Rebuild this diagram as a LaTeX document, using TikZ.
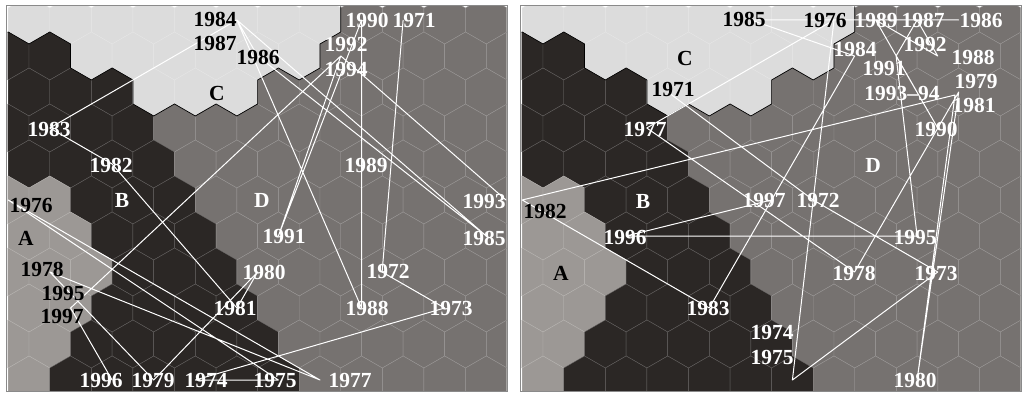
\documentclass[tikz,border=0pt]{standalone}
\usepackage{fontspec}
\setmainfont{Liberation Serif}
\definecolor{regC}{HTML}{DCDCDC}
\definecolor{regB}{HTML}{2B2725}
\definecolor{regA}{HTML}{9C9895}
\definecolor{regD}{HTML}{767270}
\definecolor{framegray}{HTML}{8A8A8A}
\tikzset{
  yr/.style={font=\fontsize{21.5}{24}\selectfont\bfseries, inner sep=0pt},
  wt/.style={yr, text=white},
  bk/.style={yr, text=black},
  traj/.style={draw=white, line width=1pt, line join=round},
  cbound/.style={draw=black, line width=0.7pt},
  panelframe/.style={draw=framegray, line width=1.3pt},
}
\newcommand{\hexrow}[2]{%
  \foreach \c [count=\i from 0] in {#2} {%
    \pgfmathsetmacro\cx{29-20.785*mod(#1,2)+41.569*\i}%
    \pgfmathsetmacro\cy{20+36*#1}%
    \filldraw[fill=reg\c, draw=reg\c!75!white, line width=0.4pt]
      (\cx,\cy) +(0,-24) -- +(20.785,-12) -- +(20.785,12) -- +(0,24)
      -- +(-20.785,12) -- +(-20.785,-12) -- cycle;
  }%
}
\newcommand{\somap}{%
  \begin{scope}
    \clip (7.5,6.5) rectangle (506.5,390.5);
    \hexrow{0}{C,C,C,C,C,C,C,C,D,D,D,D}
    \hexrow{1}{B,B,C,C,C,C,C,C,D,D,D,D,D}
    \hexrow{2}{B,B,B,C,C,C,D,D,D,D,D,D}
    \hexrow{3}{B,B,B,B,D,D,D,D,D,D,D,D,D}
    \hexrow{4}{B,B,B,B,D,D,D,D,D,D,D,D}
    \hexrow{5}{A,A,B,B,B,D,D,D,D,D,D,D,D}
    \hexrow{6}{A,A,B,B,B,D,D,D,D,D,D,D}
    \hexrow{7}{A,A,A,B,B,B,D,D,D,D,D,D,D}
    \hexrow{8}{A,A,B,B,B,B,D,D,D,D,D,D}
    \hexrow{9}{A,A,B,B,B,B,B,D,D,D,D,D,D}
    \hexrow{10}{A,B,B,B,B,B,B,D,D,D,D,D}
    \draw[cbound] (7.5,32.4) -- (8.2,32) -- (29,44) -- (49.8,32) -- (70.55,44) -- (70.55,68)
      -- (91.35,80) -- (112.14,68) -- (132.9,80) -- (132.9,104) -- (153.7,116)
      -- (174.5,104) -- (195.3,116) -- (216.1,104) -- (236.85,116) -- (257.6,104)
      -- (257.6,80) -- (278.4,68) -- (299.2,80) -- (320,68) -- (320,44)
      -- (340.8,32) -- (340.8,6.5);
  \end{scope}
  \draw[panelframe] (6.5,5.5) rectangle (507.5,391.5);
}
\begin{document}
\begin{tikzpicture}[x=1pt,y=-1pt]
\useasboundingbox (0,0) rectangle (1024,393);
\fill[white] (0,0) rectangle (1024,393);
\somap
\begin{scope}[shift={(514,0)}]
\somap
\end{scope}

% ---------- left panel trajectory points ----------
\coordinate (a71) at (403.1,20);
\coordinate (a72) at (382.1,272);
\coordinate (a73) at (444.7,308);
\coordinate (a74) at (195.3,380);
\coordinate (a75) at (278.4,380);
\coordinate (a76) at (8.2,200);
\coordinate (a77) at (320,380);
\coordinate (a78) at (49.8,272);
\coordinate (a79) at (153.7,380);
\coordinate (a80) at (257.6,272);
\coordinate (a81) at (236.9,308);
\coordinate (a82) at (112.1,164);
\coordinate (a83) at (49.8,128);
\coordinate (a84) at (236.9,20);
\coordinate (a85) at (486.3,236);
\coordinate (a86) at (257.6,56);
\coordinate (a88) at (361.6,308);
\coordinate (a89) at (361.6,164);
\coordinate (a90) at (361.6,20);
\coordinate (a91) at (278.4,236);
\coordinate (a92) at (340.8,56);
\coordinate (a93) at (506,200);
\coordinate (a95) at (70.6,308);
\coordinate (a96) at (112.1,380);
\draw[traj] (a71) -- (a72) -- (a73) -- (a74) -- (a75) -- (a76) -- (a77) -- (a78)
  -- (a79) -- (a80) -- (a81) -- (a82) -- (a83) -- (a84) -- (a85) -- (a86) -- (a84)
  -- (a88) -- (a89) -- (a90) -- (a91) -- (a92) -- (a93) -- (a92) -- (a95) -- (a96) -- (a95);

% ---------- right panel trajectory points ----------
\coordinate (b71) at (667.7,92);
\coordinate (b72) at (813.2,200);
\coordinate (b73) at (937.7,272);
\coordinate (b74) at (792.4,380);
\coordinate (b76) at (834,20);
\coordinate (b77) at (646.8,128);
\coordinate (b78) at (854.6,272);
\coordinate (b79) at (958.7,92);
\coordinate (b80) at (917.1,380);
\coordinate (b81) at (955,95);
\coordinate (b82) at (522.2,200);
\coordinate (b83) at (709.3,308);
\coordinate (b84) at (854.6,56);
\coordinate (b85) at (750.9,20);
\coordinate (b86) at (958.7,20);
\coordinate (b87) at (917.1,20);
\coordinate (b88) at (937.7,56);
\coordinate (b89) at (875.6,20);
\coordinate (b90) at (937.7,128);
\coordinate (b91) at (896.1,56);
\coordinate (b95) at (917.1,236);
\coordinate (b96) at (626.1,236);
\coordinate (b97) at (771.4,200);
\draw[traj] (b71) -- (b72) -- (b73) -- (b74) -- (b76) -- (b77) -- (b78) -- (b79)
  -- (b80) -- (b81) -- (b82) -- (b83) -- (b84) -- (b85) -- (b86) -- (b87) -- (b88)
  -- (b89) -- (b90) -- (b91) -- (b87) -- (b91) -- (b95) -- (b96) -- (b97);

% ---------- left panel labels ----------
\node[bk] (L84) at (215,19) {1984};
\node[bk] (L87) at (215,43) {1987};
\node[bk] (L86) at (258,57) {1986};
\node[bk] (LC) at (217,93) {C};
\node[wt] (L90) at (367,20) {1990};
\node[wt] (L71) at (414,20) {1971};
\node[wt] (L92) at (346,44) {1992};
\node[wt] (L94) at (346,69) {1994};
\node[wt] (L83) at (49,129) {1983};
\node[wt] (L82) at (111,165) {1982};
\node[wt] (LB) at (122,200) {B};
\node[wt] (LD) at (262,200) {D};
\node[wt] (L89) at (366,165) {1989};
\node[bk] (L76) at (31,205) {1976};
\node[bk] (LA) at (26,238) {A};
\node[wt] (L91) at (284,236) {1991};
\node[wt] (L93) at (484,201) {1993};
\node[wt] (L85) at (484,238) {1985};
\node[wt] (L80) at (264,272) {1980};
\node[wt] (L81) at (235,308) {1981};
\node[wt] (L72) at (388,271) {1972};
\node[wt] (L88) at (367,308) {1988};
\node[wt] (L73) at (451,308) {1973};
\node[bk] (L78) at (42,269) {1978};
\node[bk] (L95) at (63,293) {1995};
\node[bk] (L97) at (62,316) {1997};
\node[wt] (L96) at (101,380) {1996};
\node[wt] (L79) at (153,380) {1979};
\node[wt] (L74) at (206,380) {1974};
\node[wt] (L75) at (275,380) {1975};
\node[wt] (L77) at (350,380) {1977};

% ---------- right panel labels ----------
\node[bk] (R85) at (744,19) {1985};
\node[bk] (R76) at (825,20) {1976};
\node[wt] (R89) at (876,20) {1989};
\node[wt] (R87) at (923,20) {1987};
\node[wt] (R86) at (981,20) {1986};
\node[wt] (R84) at (855,49) {1984};
\node[wt] (R92) at (925,44) {1992};
\node[wt] (R88) at (973,57) {1988};
\node[wt] (R91) at (884,68) {1991};
\node[wt] (R79) at (976,81) {1979};
\node[wt] (R9394) at (902,93) {1993--94};
\node[wt] (R81) at (974,105) {1981};
\node[wt] (R90) at (936,129) {1990};
\node[wt] (RD) at (873,165) {D};
\node[bk] (RC) at (685,58) {C};
\node[bk] (R71) at (673,89) {1971};
\node[wt] (R77) at (645,129) {1977};
\node[bk] (R82) at (545,211) {1982};
\node[wt] (RB) at (643,201) {B};
\node[wt] (R96) at (625,237) {1996};
\node[bk] (RA) at (561,273) {A};
\node[wt] (R83) at (708,308) {1983};
\node[wt] (R97) at (764,200) {1997};
\node[wt] (R72) at (818,200) {1972};
\node[wt] (R95) at (915,237) {1995};
\node[wt] (R78) at (854,273) {1978};
\node[wt] (R73) at (936,273) {1973};
\node[wt] (R74) at (772,332) {1974};
\node[wt] (R75) at (772,357) {1975};
\node[wt] (R80) at (915,380) {1980};
\end{tikzpicture}
\end{document}
